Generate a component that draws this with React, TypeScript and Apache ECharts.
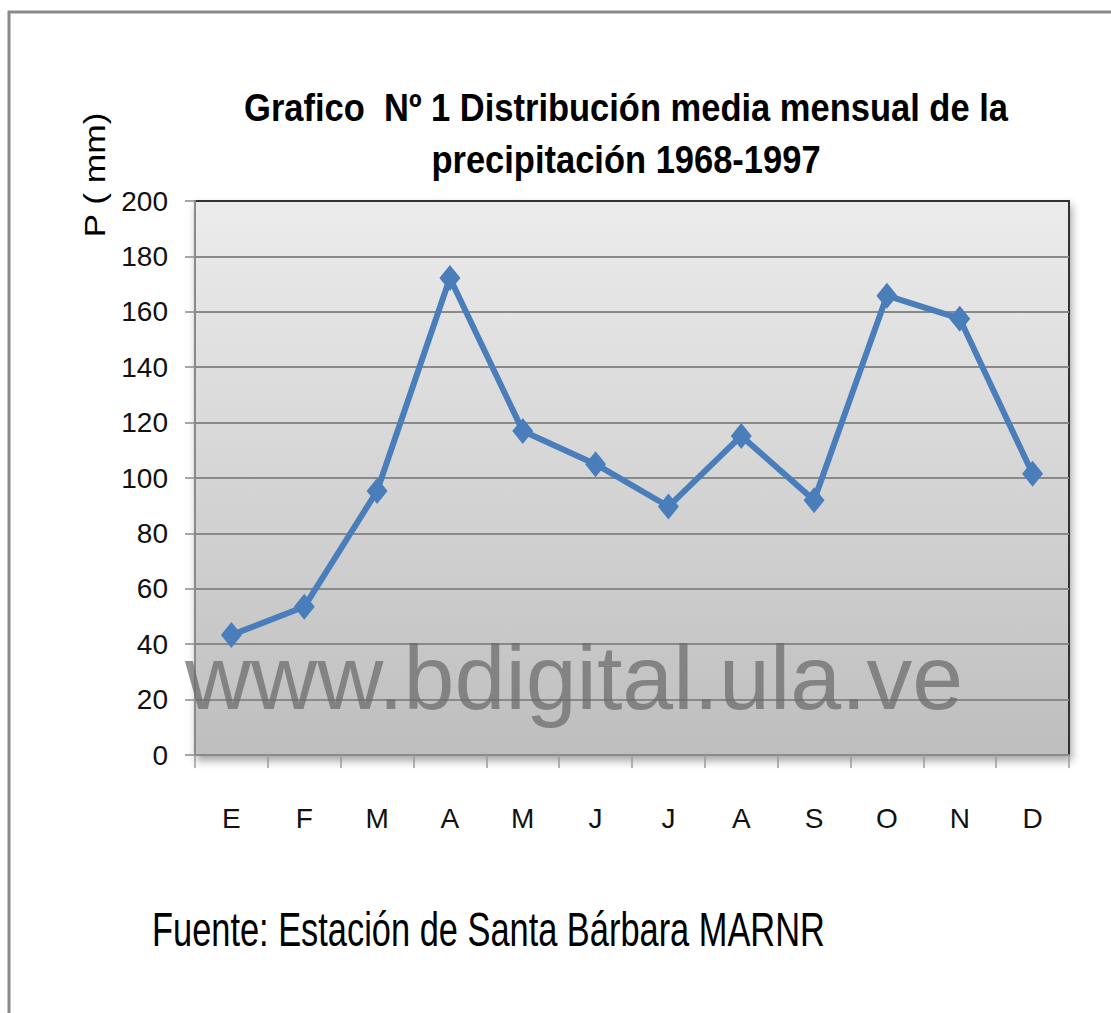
import React, { useEffect, useRef } from "react";
import * as echarts from "echarts";

const months = ["E", "F", "M", "A", "M", "J", "J", "A", "S", "O", "N", "D"];
const precipitation = [43.3, 53.5, 95.3, 172.2, 117, 105, 89.7, 115.2, 92, 165.8, 157.5, 101.5];
const yMin = 0;
const yMax = 200;
const yStep = 20;
const titleLines = ["Grafico  Nº 1 Distribución media mensual de la", "precipitación 1968-1997"];
const yName = "P ( mm)";
const sourceText = "Fuente: Estación de Santa Bárbara MARNR";
const watermark = "www.bdigital.ula.ve";

const SANS = '"Liberation Sans", Arial, sans-serif';

export default function App() {
  const ref = useRef<HTMLDivElement>(null);
  useEffect(() => {
    document.body.style.margin = "0";
    const chart = echarts.init(ref.current!, null, { renderer: "svg" });
    chart.setOption({
      animation: false,
      backgroundColor: "#ffffff",
      grid: {
        left: 195,
        right: 42,
        top: 201,
        bottom: 258,
        show: true,
        borderColor: "#333333",
        borderWidth: 2,
        backgroundColor: {
          type: "linear",
          x: 0, y: 0, x2: 0, y2: 1,
          colorStops: [
            { offset: 0, color: "#ececec" },
            { offset: 1, color: "#bebebe" },
          ],
        },
        shadowColor: "rgba(0,0,0,0.35)",
        shadowBlur: 8,
        shadowOffsetX: 2,
        shadowOffsetY: 5,
      },
      xAxis: {
        type: "category",
        data: months,
        boundaryGap: true,
        axisLine: { show: true, lineStyle: { color: "#8a8a8a", width: 2 } },
        axisTick: { show: true, length: 13, alignWithLabel: false, lineStyle: { color: "#9a9a9a", width: 1.5 } },
        axisLabel: { margin: 49, fontSize: 28, fontFamily: SANS, color: "#111111", interval: 0 },
        splitLine: { show: false },
      },
      yAxis: {
        type: "value",
        min: yMin,
        max: yMax,
        interval: yStep,
        axisLine: { show: true, lineStyle: { color: "#8a8a8a", width: 2 } },
        axisTick: { show: true, length: 10, lineStyle: { color: "#8a8a8a", width: 1.5 } },
        axisLabel: { margin: 27, fontSize: 28, fontFamily: SANS, color: "#111111" },
        splitLine: { show: true, showMaxLine: false, showMinLine: false, lineStyle: { color: "#898989", width: 2 } },
      },
      series: [
        {
          type: "line",
          data: precipitation,
          symbol: "diamond",
          symbolSize: [21, 26],
          lineStyle: { color: "#4a7ebb", width: 6 },
          itemStyle: { color: "#4a7ebb" },
          z: 3,
        },
      ],
      graphic: [
        {
          type: "rect",
          shape: { x: 9, y: 12, width: 1300, height: 1200 },
          style: { fill: "none", stroke: "#8a8a8a", lineWidth: 3 },
          silent: true,
          z: 1,
        },
        {
          type: "text",
          x: 626,
          y: 107.5,
          scaleY: 1.13,
          style: { text: titleLines[0], font: `bold 34.5px ${SANS}`, fill: "#000", align: "center", verticalAlign: "middle" },
        },
        {
          type: "text",
          x: 626,
          y: 160,
          scaleY: 1.13,
          style: { text: titleLines[1], font: `bold 34.5px ${SANS}`, fill: "#000", align: "center", verticalAlign: "middle" },
        },
        {
          type: "text",
          x: 95,
          y: 175,
          rotation: Math.PI / 2,
          scaleX: 1.22,
          style: { text: yName, font: `29px ${SANS}`, fill: "#000", align: "center", verticalAlign: "middle" },
        },
        {
          type: "text",
          x: 152,
          y: 929,
          scaleY: 1.42,
          style: { text: sourceText, font: `34.4px ${SANS}`, fill: "#000", align: "left", verticalAlign: "middle" },
        },
        {
          type: "text",
          x: 185,
          y: 677,
          z: 100,
          style: { text: watermark, font: `91.5px ${SANS}`, fill: "rgba(105,105,105,0.72)", align: "left", verticalAlign: "middle" },
        },
      ],
    });
    return () => chart.dispose();
  }, []);
  return <div ref={ref} style={{ width: 1111, height: 1013 }} />;
}
